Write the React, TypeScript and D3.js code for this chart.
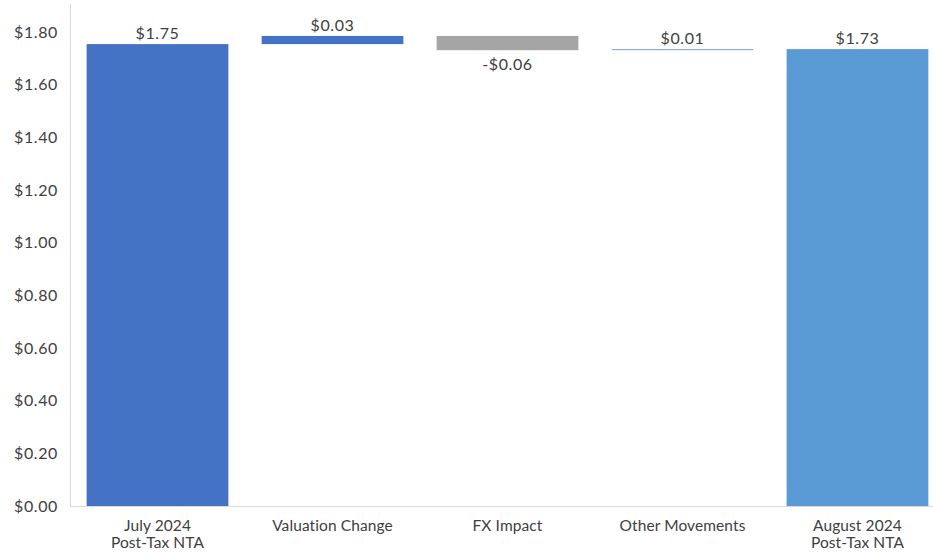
import React, { useEffect, useRef } from 'react';
import * as d3 from 'd3';

// categories and values (start, steps, end)
const categories = ['July 2024|Post-Tax NTA', 'Valuation Change', 'FX Impact', 'Other Movements', 'August 2024|Post-Tax NTA'];
const values = [1.754, 0.031, -0.054, 0.004, 1.735];
const kinds = ['total', 'step', 'step', 'step', 'total'];
const valueLabels = ['$1.75', '$0.03', '-$0.06', '$0.01', '$1.73'];
const barColors = ['#4472C4', '#4472C4', '#A5A5A5', '#7FA3DE', '#5B9BD5'];
const yTicks = [0, 0.2, 0.4, 0.6, 0.8, 1.0, 1.2, 1.4, 1.6, 1.8];

const W = 933;
const H = 554;

export default function App() {
  const ref = useRef<SVGSVGElement | null>(null);

  useEffect(() => {
    const svg = d3.select(ref.current);
    svg.selectAll('*').remove();
    const font = 'Lato, "Open Sans", sans-serif';
    const txt = '#404040';

    const x = d3.scaleBand<string>().domain(categories).range([70, 945]).paddingInner(0.19).paddingOuter(0.095);
    const y = d3.scaleLinear().domain([0, 1.8]).range([506, 32]);

    // axis lines
    svg.append('line').attr('x1', 70.5).attr('x2', 70.5).attr('y1', 4).attr('y2', 506).attr('stroke', '#D9D9D9');
    svg.append('line').attr('x1', 70).attr('x2', W).attr('y1', 506.5).attr('y2', 506.5).attr('stroke', '#D9D9D9');

    // y tick labels
    svg.append('g').selectAll('text').data(yTicks).enter().append('text')
      .attr('x', 58)
      .attr('y', d => y(d))
      .attr('dy', '0.35em')
      .attr('text-anchor', 'end')
      .attr('font-family', font)
      .attr('font-size', 16)
      .attr('letter-spacing', 0.6)
      .attr('fill', txt)
      .text(d => '$' + d.toFixed(2));

    // compute waterfall extents
    let running = 0;
    const bars = values.map((v, i) => {
      let lo: number, hi: number;
      if (kinds[i] === 'total') {
        lo = 0; hi = v; running = v;
      } else {
        const next = running + v;
        lo = Math.min(running, next); hi = Math.max(running, next);
        running = next;
      }
      return { cat: categories[i], v, lo, hi, i };
    });

    const g = svg.append('g');
    g.selectAll('rect').data(bars).enter().append('rect')
      .attr('x', d => x(d.cat)!)
      .attr('width', x.bandwidth())
      .attr('y', d => y(d.hi))
      .attr('height', d => Math.max(1, y(d.lo) - y(d.hi)))
      .attr('fill', d => barColors[d.i]);

    // value labels
    g.selectAll('text.val').data(bars).enter().append('text')
      .attr('class', 'val')
      .attr('x', d => x(d.cat)! + x.bandwidth() / 2)
      .attr('y', d => (d.v < 0 ? y(d.lo) + 20 : y(d.hi) - 5))
      .attr('text-anchor', 'middle')
      .attr('font-family', font)
      .attr('font-size', 16)
      .attr('letter-spacing', 0.6)
      .attr('fill', txt)
      .text(d => valueLabels[d.i]);

    // category labels
    const cl = svg.append('g').selectAll('text').data(categories).enter().append('text')
      .attr('x', d => x(d)! + x.bandwidth() / 2)
      .attr('y', 531)
      .attr('text-anchor', 'middle')
      .attr('font-family', font)
      .attr('font-size', 15.5)
      .attr('letter-spacing', 0.1)
      .attr('fill', txt);
    cl.each(function (d) {
      const t = d3.select(this);
      d.split('|').forEach((line, k) => {
        t.append('tspan').attr('x', x(d)! + x.bandwidth() / 2).attr('dy', k === 0 ? 0 : 17).text(line);
      });
    });
  }, []);

  return (
    <div style={{ position: 'fixed', left: 0, top: 0, width: W, height: H, background: '#fff' }}>
      <svg ref={ref} width={W} height={H} style={{ display: 'block', overflow: 'hidden' }} />
    </div>
  );
}
